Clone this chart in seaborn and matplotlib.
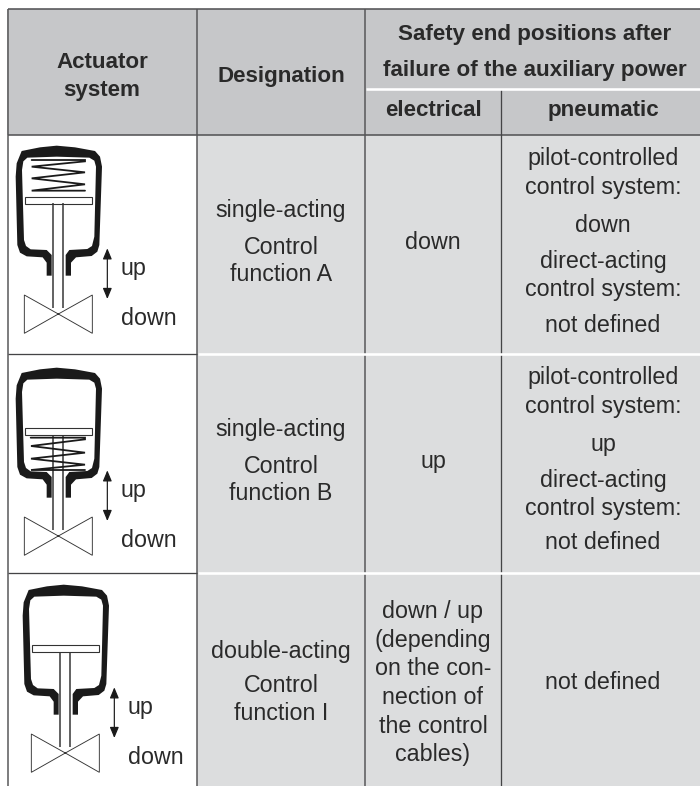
import matplotlib
matplotlib.use("Agg")
import matplotlib.pyplot as plt
from matplotlib.colors import ListedColormap
from matplotlib.patches import Polygon, Rectangle
import numpy as np
import seaborn as sns

# table content
HEADER_ACTUATOR = ["Actuator", "system"]
HEADER_DESIGNATION = ["Designation"]
HEADER_SAFETY = ["Safety end positions after", "failure of the auxiliary power"]
HEADER_ELECTRICAL = ["electrical"]
HEADER_PNEUMATIC = ["pneumatic"]

DESIGNATION = [
    ["single-acting", "Control", "function A"],
    ["single-acting", "Control", "function B"],
    ["double-acting", "Control", "function I"],
]
ELECTRICAL = [
    ["down"],
    ["up"],
    ["down / up", "(depending", "on the con-", "nection of", "the control", "cables)"],
]
PNEUMATIC = [
    ["pilot-controlled", "control system:", "down", "direct-acting", "control system:", "not defined"],
    ["pilot-controlled", "control system:", "up", "direct-acting", "control system:", "not defined"],
    ["not defined"],
]

# layout in pixels (the heatmap below has one cell per pixel)
COL_WIDTHS = [7, 190, 168, 136, 199]
ROW_HEIGHTS = [9, 126, 219, 219, 213]
SHADES = np.array([
    [0, 0, 0, 0, 0],
    [0, 2, 2, 2, 2],
    [0, 0, 1, 1, 1],
    [0, 0, 1, 1, 1],
    [0, 0, 1, 1, 1],
])
GRID_X = [7.5, 197, 365.3, 501.3]
DESIGNATION_Y = [[208, 245, 272], [427, 464, 491], [649, 683, 711]]
ELECTRICAL_Y = [[240], [459], [609, 638, 666, 695, 724, 752]]
PNEUMATIC_Y = [[156, 185, 223, 259, 287, 323], [375, 404, 442, 478, 506, 540], [680]]

# actuator outline in zoomed (3x) drawing units
BODY = [(140, 827), (140, 788), (128, 772), (80, 769), (60, 758), (52, 735), (47, 530), (50, 490), (65, 453),
        (120, 442), (170, 437), (225, 442), (285, 453), (300, 470), (306, 500), (298, 735), (292, 755),
        (275, 768), (228, 772), (213, 788), (213, 827), (197, 827),
        (197, 765), (208, 750), (262, 747), (276, 738), (283, 710), (288, 500), (283, 482), (268, 473),
        (170, 470), (82, 473), (70, 484), (66, 510), (72, 720), (78, 738), (92, 748), (140, 750), (155, 765), (155, 827)]
VALVE = [(73, 885), (175, 942), (277, 885), (277, 1000), (175, 942), (73, 1000)]
SPRING_TOP = [(95, 480), (255, 480), (255, 484), (95, 500), (255, 517), (95, 535), (255, 553), (95, 572), (255, 572)]
SPRING_BELOW = [(92, 647), (255, 647), (255, 652), (93, 672), (255, 692), (93, 710), (255, 728), (93, 744), (255, 744)]
DRAW_DX = [0, 0, 7]
DRAW_DY = [0, 222, 439]
DISK_Y = [590, 618, 618]
SPRINGS = [SPRING_TOP, SPRING_BELOW, None]

TEXT_COLOR = "#2a2a2a"
LINE_COLOR = "#555557"
FONT_PX = 23.3
HEAD_PX = 22.4


def px(size):
    return size * 0.72


def put_lines(ax, lines, x, ys, weight="normal"):
    size = HEAD_PX if weight == "bold" else FONT_PX
    for line, y in zip(lines, ys):
        ax.text(x, y, line, ha="center", va="center_baseline", fontsize=px(size),
                color=TEXT_COLOR, fontweight=weight)


def draw_actuator(ax, i):
    dx, dy = DRAW_DX[i], DRAW_DY[i]

    def pts(points):
        return [(x / 3 + dx, y / 3 + dy) for x, y in points]

    # stem first, disk and body on top
    for x in (160, 190):
        (sx, sy0), (_, sy1) = pts([(x, DISK_Y[i] + 20), (x, 925)])
        ax.plot([sx, sx], [sy0, sy1], color="#333333", lw=px(1.5), solid_capstyle="butt")
    spring = SPRINGS[i]
    if spring is not None:
        xs, ys = zip(*pts(spring))
        ax.plot(xs, ys, color="#1a1a1a", lw=px(1.8), solid_joinstyle="miter")
    ax.add_patch(Polygon(pts(BODY), closed=True, facecolor="#1a1a1a", edgecolor="none"))
    ax.add_patch(Polygon(pts(VALVE), closed=True, facecolor="none", edgecolor="#333333", lw=px(0.9)))
    (rx, ry) = pts([(75, DISK_Y[i])])[0]
    ax.add_patch(Rectangle((rx, ry), 67, 7, facecolor="white", edgecolor="#333333", lw=px(1.1)))

    # travel arrow and labels
    (ax0, ay0), (_, ay1) = pts([(322, 745), (322, 897)])
    ax.annotate("", xy=(ax0, ay0), xytext=(ax0, ay1),
                arrowprops=dict(arrowstyle="<|-|>,head_length=0.36,head_width=0.15", color="#1a1a1a", lw=px(1.2),
                                mutation_scale=18, shrinkA=0, shrinkB=0))
    for label, lx, ly in [("up", 362, 797), ("down", 362, 949)]:
        (tx, ty) = pts([(lx, ly)])[0]
        ax.text(tx, ty, label, ha="left", va="center_baseline", fontsize=px(FONT_PX), color=TEXT_COLOR)


sns.set_theme(style="white")
plt.rcParams["font.family"] = ["Liberation Sans", "DejaVu Sans"]

fig = plt.figure(figsize=(7.0, 7.86), dpi=100)
ax = fig.add_axes([0, 0, 1, 1])

# one heatmap cell per pixel gives the axes a pixel coordinate system
pixels = np.repeat(np.repeat(SHADES, ROW_HEIGHTS, axis=0), COL_WIDTHS, axis=1)
sns.heatmap(pixels, ax=ax, cmap=ListedColormap(["#ffffff", "#dcddde", "#c6c7c9"]), vmin=0, vmax=2,
            cbar=False, xticklabels=False, yticklabels=False)
H, W = pixels.shape

ax.hlines([8.7, 135.3], GRID_X[0], W, color=LINE_COLOR, lw=px(1.6))
ax.vlines(GRID_X[:3], 8.7, H, color=LINE_COLOR, lw=px(1.5))
ax.vlines(GRID_X[3], 89, H, color="#444446", lw=px(1.3))
ax.hlines([354, 573], GRID_X[0], GRID_X[1], color="#444446", lw=px(1.3))
ax.hlines([354, 573], GRID_X[1] + 1, W, color="white", lw=px(2.6))
ax.hlines(89, GRID_X[2] + 1, W, color="white", lw=px(2.6))

put_lines(ax, HEADER_ACTUATOR, 102, [60, 88], "bold")
put_lines(ax, HEADER_DESIGNATION, 281, [74], "bold")
put_lines(ax, HEADER_SAFETY, 535, [32, 68], "bold")
put_lines(ax, HEADER_ELECTRICAL, 433, [108], "bold")
put_lines(ax, HEADER_PNEUMATIC, 603, [108], "bold")

for i in range(3):
    draw_actuator(ax, i)
    put_lines(ax, DESIGNATION[i], 281, DESIGNATION_Y[i])
    put_lines(ax, ELECTRICAL[i], 433, ELECTRICAL_Y[i])
    put_lines(ax, PNEUMATIC[i], 603, PNEUMATIC_Y[i])

fig.savefig("out.png", dpi=100)
